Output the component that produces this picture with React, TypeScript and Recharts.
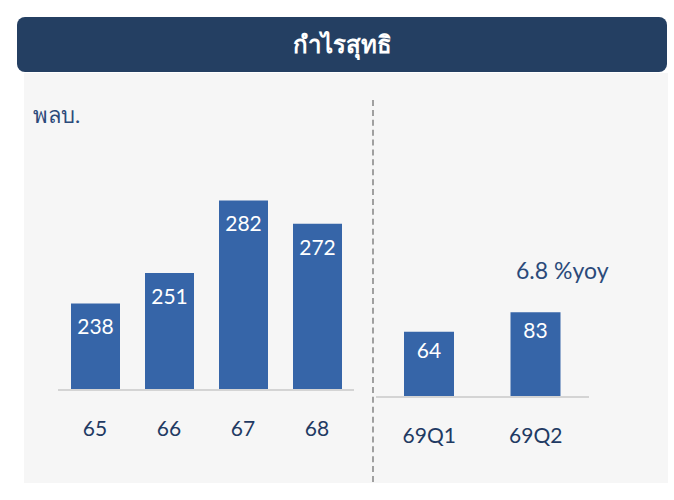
import { Bar, BarChart, LabelList, XAxis, YAxis } from "recharts";

const yearLabels = ["65", "66", "67", "68"];
const yearProfit = [238, 251, 282, 272];
const quarterLabels = ["69Q1", "69Q2"];
const quarterProfit = [64, 83];

const yearData = yearLabels.map((name, i) => ({ name, value: yearProfit[i] }));
const quarterData = quarterLabels.map((name, i) => ({ name, value: quarterProfit[i] }));

const navy = "#1F3A63";
const barColor = "#3665A8";
const font = "Lato, 'Noto Sans', sans-serif";

const tickStyle = { fill: navy, fontSize: 21, fontFamily: font };
const labelStyle = { fill: "#ffffff", fontSize: 21, fontFamily: font };

export default function App() {
  return (
    <div
      style={{
        position: "absolute",
        left: 0,
        top: 0,
        width: 674,
        height: 500,
        background: "#ffffff",
        fontFamily: font,
      }}
    >
      <div
        style={{
          position: "absolute",
          left: 24,
          top: 73,
          width: 644,
          height: 410,
          background: "#F6F6F6",
        }}
      />
      <div
        style={{
          position: "absolute",
          left: 17,
          top: 17,
          width: 650,
          height: 55,
          borderRadius: 8,
          background: "#243F62",
          color: "#ffffff",
          fontSize: 24,
          fontWeight: 700,
          display: "flex",
          alignItems: "center",
          justifyContent: "center",
        }}
      >
        กำไรสุทธิ
      </div>
      <div
        style={{
          position: "absolute",
          left: 33,
          top: 100,
          color: "#2B4A7A",
          fontSize: 22,
          lineHeight: "30px",
        }}
      >
        พลบ.
      </div>
      <div
        style={{
          position: "absolute",
          left: 372,
          top: 100,
          height: 382,
          borderLeft: "2px dashed #A0A0A0",
        }}
      />
      <div
        style={{
          position: "absolute",
          left: 516,
          top: 255,
          color: "#2B4A7A",
          fontSize: 23,
          lineHeight: "30px",
          whiteSpace: "nowrap",
        }}
      >
        6.8 %yoy
      </div>

      <div style={{ position: "absolute", left: 58, top: 120 }}>
        <BarChart
          width={296}
          height={340}
          data={yearData}
          margin={{ top: 36, right: 0, bottom: 0, left: 0 }}
        >
          <XAxis
            dataKey="name"
            height={70}
            tickLine={false}
            tickSize={0}
            tickMargin={31}
            axisLine={{ stroke: "#D4D4D4", strokeWidth: 2 }}
            tick={tickStyle}
            interval={0}
          />
          <YAxis hide domain={[201, 301]} />
          <Bar dataKey="value" fill={barColor} barSize={49} isAnimationActive={false}>
            <LabelList dataKey="value" position="insideTop" offset={16} style={labelStyle} />
          </Bar>
        </BarChart>
      </div>

      <div style={{ position: "absolute", left: 376, top: 255 }}>
        <BarChart
          width={213}
          height={212}
          data={quarterData}
          margin={{ top: 40, right: 0, bottom: 0, left: 0 }}
        >
          <XAxis
            dataKey="name"
            height={70}
            tickLine={false}
            tickSize={0}
            tickMargin={31}
            axisLine={{ stroke: "#D4D4D4", strokeWidth: 2 }}
            tick={tickStyle}
            interval={0}
          />
          <YAxis hide domain={[0, 100]} />
          <Bar dataKey="value" fill={barColor} barSize={50} isAnimationActive={false}>
            <LabelList dataKey="value" position="insideTop" offset={11} style={labelStyle} />
          </Bar>
        </BarChart>
      </div>
    </div>
  );
}
